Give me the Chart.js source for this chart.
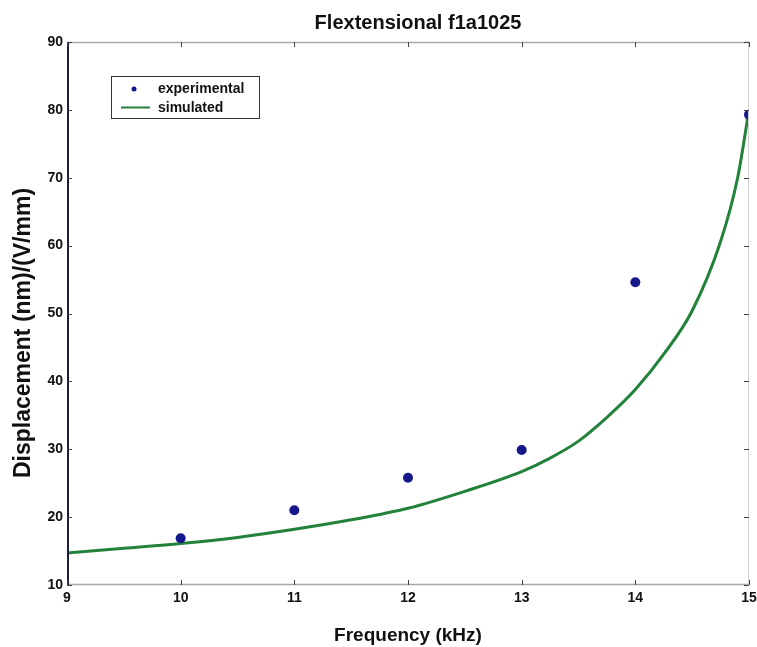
<!DOCTYPE html>
<html><head><meta charset="utf-8">
<script src="https://cdn.jsdelivr.net/npm/chart.js@4.4.1/dist/chart.umd.min.js"></script>
<style>html,body{margin:0;padding:0;background:#fff;} #wrap{width:757px;height:647px;position:relative;}</style>
</head><body><div id="wrap"><canvas id="c" width="757" height="647"></canvas></div>
<script>
const chartTitle = 'Flextensional f1a1025';
const xTitle = 'Frequency (kHz)';
const yTitle = 'Displacement (nm)/(V/mm)';
const xTicks = [9, 10, 11, 12, 13, 14, 15];
const yTicks = [10, 20, 30, 40, 50, 60, 70, 80, 90];
const expFreq = [10, 11, 12, 13, 14, 15];
const expDisp = [16.9, 21.0, 25.8, 29.9, 54.6, 79.3];
const simFreq = [9, 9.5, 10, 10.5, 11, 11.5, 12, 12.5, 13, 13.25, 13.5, 13.75, 14, 14.25, 14.5, 14.75, 14.9, 15];
const simDisp = [14.7, 15.4, 16.1, 17.0, 18.2, 19.6, 21.3, 23.8, 26.7, 28.7, 31.2, 34.7, 38.8, 44.0, 50.4, 60.6, 70.0, 80.0];

const FONT = 'Liberation Sans, Arial, sans-serif';
const EXP_COLOR = '#14188a';
const SIM_COLOR = '#22823a';

const framePlugin = {
  id: 'frame',
  afterDatasetsDraw(chart) {
    const {ctx, chartArea: a, scales: {x, y}} = chart;
    ctx.save();
    ctx.lineWidth = 1.5;
    ctx.strokeStyle = '#a8a8a8';
    ctx.beginPath();
    ctx.moveTo(a.left, a.top + 0.5); ctx.lineTo(a.right, a.top + 0.5);
    ctx.moveTo(a.left, a.bottom - 0.5); ctx.lineTo(a.right, a.bottom - 0.5);
    ctx.stroke();
    ctx.strokeStyle = '#d0d0d0';
    ctx.lineWidth = 1;
    ctx.beginPath();
    ctx.moveTo(a.right - 0.5, a.top); ctx.lineTo(a.right - 0.5, a.bottom);
    ctx.stroke();
    ctx.strokeStyle = '#1c1c3c';
    ctx.lineWidth = 2;
    ctx.beginPath();
    ctx.moveTo(a.left + 1, a.top); ctx.lineTo(a.left + 1, a.bottom);
    ctx.stroke();
    ctx.lineWidth = 1;
    ctx.strokeStyle = '#444';
    ctx.beginPath();
    xTicks.forEach(v => {
      const px = Math.round(x.getPixelForValue(v)) + 0.5;
      ctx.moveTo(px, a.bottom); ctx.lineTo(px, a.bottom - 5);
      ctx.moveTo(px, a.top); ctx.lineTo(px, a.top + 5);
    });
    yTicks.forEach(v => {
      const py = Math.round(y.getPixelForValue(v)) + 0.5;
      ctx.moveTo(a.left, py); ctx.lineTo(a.left + 5, py);
      ctx.moveTo(a.right, py); ctx.lineTo(a.right - 5, py);
    });
    ctx.stroke();
    ctx.restore();
  },
  afterDraw(chart) {
    const ctx = chart.ctx;
    ctx.save();
    ctx.fillStyle = '#111';
    // title
    ctx.font = 'bold 20px ' + FONT;
    ctx.textAlign = 'center';
    ctx.textBaseline = 'middle';
    ctx.fillText(chartTitle, 418, 23);
    // y axis title
    ctx.save();
    ctx.translate(24, 333);
    ctx.rotate(-Math.PI / 2);
    ctx.font = 'bold 23px ' + FONT;
    ctx.fillText(yTitle, 0, 0);
    ctx.restore();
    // legend
    const ds = chart.data.datasets;
    ctx.strokeStyle = '#333';
    ctx.lineWidth = 1;
    ctx.strokeRect(111.5, 76.5, 148, 42);
    ctx.font = 'bold 14px ' + FONT;
    ctx.textAlign = 'left';
    ctx.fillStyle = EXP_COLOR;
    ctx.beginPath(); ctx.arc(134, 89, 2.5, 0, Math.PI * 2); ctx.fill();
    ctx.fillStyle = '#111';
    ctx.fillText(ds[0].label, 158, 89);
    ctx.strokeStyle = SIM_COLOR;
    ctx.lineWidth = 2;
    ctx.beginPath(); ctx.moveTo(121, 107.5); ctx.lineTo(150, 107.5); ctx.stroke();
    ctx.fillText(ds[1].label, 158, 108);
    ctx.restore();
  }
};

new Chart(document.getElementById('c'), {
  type: 'scatter',
  data: {
    datasets: [
      {
        label: 'experimental',
        data: expFreq.map((f, i) => ({x: f, y: expDisp[i]})),
        showLine: false,
        pointRadius: 5,
        pointBackgroundColor: EXP_COLOR,
        pointBorderColor: EXP_COLOR,
        pointBorderWidth: 0
      },
      {
        label: 'simulated',
        data: simFreq.map((f, i) => ({x: f, y: simDisp[i]})),
        showLine: true,
        pointRadius: 0,
        borderColor: SIM_COLOR,
        borderWidth: 3,
        cubicInterpolationMode: 'monotone'
      }
    ]
  },
  options: {
    responsive: false,
    animation: false,
    devicePixelRatio: 1,
    layout: {padding: {left: 0, right: 8, top: 42, bottom: 0}},
    plugins: {legend: {display: false}, tooltip: {enabled: false}, title: {display: false}},
    scales: {
      x: {
        type: 'linear', min: 9, max: 15,
        afterBuildTicks: s => { s.ticks = xTicks.map(v => ({value: v})); },
        afterFit: s => { s.height = 62; s.paddingRight = 0; s.paddingLeft = 0; },
        grid: {display: false, drawTicks: false},
        border: {display: false},
        ticks: {padding: 5, color: '#111', font: {family: FONT, size: 14, weight: 'bold'}, maxRotation: 0},
        title: {display: true, text: xTitle, color: '#111', font: {family: FONT, size: 19, weight: 'bold'}, padding: {top: 0, bottom: 0}}
      },
      y: {
        type: 'linear', min: 10, max: 90,
        afterBuildTicks: s => { s.ticks = yTicks.map(v => ({value: v})); },
        afterFit: s => { s.width = 67; s.paddingTop = 0; s.paddingBottom = 0; },
        grid: {display: false, drawTicks: false},
        border: {display: false},
        ticks: {padding: 4, color: '#111', font: {family: FONT, size: 14, weight: 'bold'}},
        title: {display: false, text: yTitle}
      }
    }
  },
  plugins: [framePlugin]
});
</script></body></html>
